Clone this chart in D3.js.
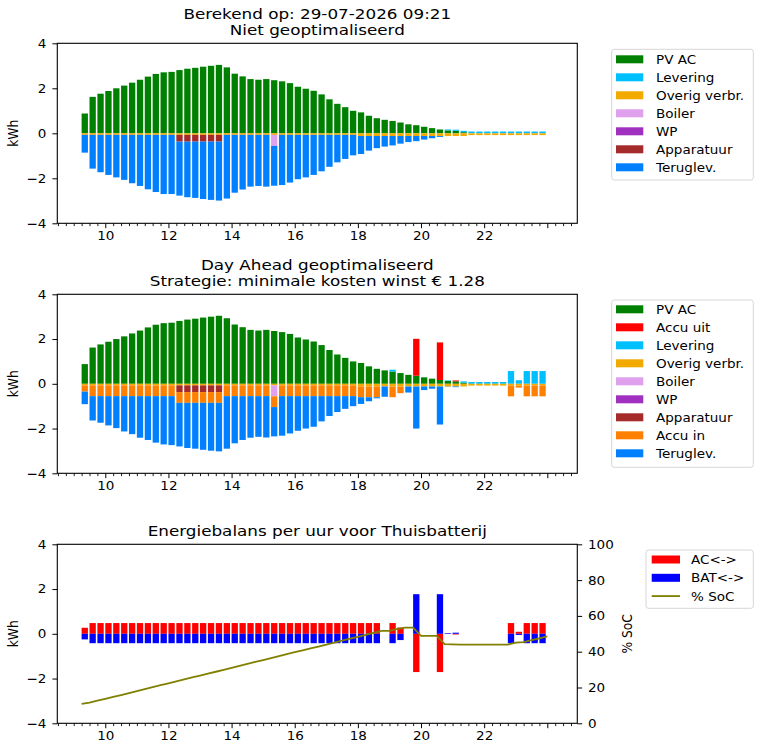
<!DOCTYPE html>
<html><head><meta charset="utf-8">
<script src="https://cdn.jsdelivr.net/npm/d3@7"></script>
<style>
body{margin:0;background:#fff}
text{font-family:"DejaVu Sans",sans-serif;fill:#000}
</style>
</head><body>
<svg id="c" width="775" height="754"></svg>
<script>
// ---------- DATA ----------
const times = ("09:15 09:30 09:45 10:00 10:15 10:30 10:45 11:00 11:15 11:30 11:45 12:00 12:15 12:30 12:45 " +
  "13:00 13:15 13:30 13:45 14:00 14:15 14:30 14:45 15:00 15:15 15:30 15:45 16:00 16:15 16:30 16:45 " +
  "17:00 17:15 17:30 17:45 18:00 18:15 18:30 18:45 19:00 19:15 19:30 19:45 20:00 20:15 20:30 20:45 " +
  "21:00 21:15 21:30 21:45 22:00 22:15 22:30 22:45 23:00 23:15 23:30 23:45").split(" ");
const socTimes = times.concat(["24:00"]);

const pvAC = [0.88,1.62,1.76,1.88,2.00,2.12,2.25,2.38,2.52,2.64,
  2.71,2.73,2.81,2.87,2.91,2.96,3.00,3.04,2.93,2.65,
  2.53,2.41,2.38,2.41,2.36,2.31,2.23,2.07,1.98,1.89,
  1.73,1.51,1.31,1.16,1.00,0.93,0.78,0.67,0.60,0.55,
  0.48,0.40,0.36,0.29,0.23,0.17,0.13,0.11,0.05,0,
  0,0,0,0,0,0,0,0,0];

const leveringTop = [0,0,0,0,0,0,0,0,0,0, 0,0,0,0,0,0,0,0,0,0, 0,0,0,0,0,0,0,0,0,0,
  0,0,0,0,0,0,0,0,0,0, 0,0,0,0,0,0,0.04,0.05,0.06,0.08,
  0.08,0.08,0.08,0.08,0.08,0.08,0.08,0.08,0.08];

const overigVerbr = [-0.07,-0.07,-0.07,-0.07,-0.07,-0.07,-0.07,-0.07,-0.07,-0.07,
  -0.07,-0.07,-0.07,-0.07,-0.07,-0.07,-0.07,-0.07,-0.07,-0.07,
  -0.07,-0.07,-0.07,-0.07,-0.07,-0.07,-0.07,-0.07,-0.07,-0.07,
  -0.07,-0.07,-0.07,-0.07,-0.07,-0.12,-0.12,-0.12,-0.12,-0.12,
  -0.12,-0.12,-0.12,-0.12,-0.12,-0.12,-0.12,-0.12,-0.12,-0.08,
  -0.08,-0.08,-0.08,-0.08,-0.08,-0.08,-0.08,-0.08,-0.08];

const boiler = [0,0,0,0,0,0,0,0,0,0, 0,0,0,0,0,0,0,0,0,0, 0,0,0,0,-0.49,0,0,0,0,0,
  0,0,0,0,0,0,0,0,0,0, 0,0,0,0,0,0,0,0,0,0, 0,0,0,0,0,0,0,0,0];
const wp = [0,0,0,0,0,0,0,0,0,0, 0,0,0,0,0,0,0,0,0,0, 0,0,0,0,0,0,0,0,0,0,
  0,0,0,0,0,0,0,0,0,0, 0,0,0,0,0,0,0,0,0,0, 0,0,0,0,0,0,0,0,0];
const apparatuur = [0,0,0,0,0,0,0,0,0,0, 0,0,-0.30,-0.30,-0.30,-0.30,-0.30,-0.30,0,0,
  0,0,0,0,0,0,0,0,0,0, 0,0,0,0,0,0,0,0,0,0, 0,0,0,0,0,0,0,0,0,0, 0,0,0,0,0,0,0,0,0];

const teruglevTop = [-0.79,-1.50,-1.66,-1.78,-1.89,-2.00,-2.15,-2.27,-2.42,-2.54,
  -2.63,-2.63,-2.40,-2.47,-2.50,-2.55,-2.59,-2.62,-2.83,-2.57,
  -2.43,-2.30,-2.27,-2.30,-1.77,-2.23,-2.12,-1.97,-1.89,-1.78,
  -1.62,-1.42,-1.22,-1.07,-0.91,-0.80,-0.65,-0.54,-0.47,-0.42,
  -0.34,-0.27,-0.23,-0.16,-0.10,-0.04,0,0,0,0,
  0,0,0,0,0,0,0,0,0];

// Day Ahead optimised
const accuUit = [0,0,0,0,0,0,0,0,0,0, 0,0,0,0,0,0,0,0,0,0, 0,0,0,0,0,0,0,0,0,0,
  0,0,0,0,0,0,0,0,0,0, 0,0,1.65,0,0,1.68,0,0.04,0,0, 0,0,0,0,0,0,0,0,0];
const leveringMid = [0,0,0,0,0,0,0,0,0,0, 0,0,0,0,0,0,0,0,0,0, 0,0,0,0,0,0,0,0,0,0,
  0,0,0,0,0,0,0,0,0,0.08, 0,0,0,0,0,0,0.02,0,0.06,0.08,
  0.08,0.08,0.08,0.08,0.57,0.16,0.57,0.57,0.57];
const accuIn = [-0.28,-0.48,-0.48,-0.48,-0.48,-0.48,-0.48,-0.48,-0.48,-0.48,
  -0.48,-0.48,-0.48,-0.48,-0.48,-0.48,-0.48,-0.48,-0.48,-0.48,
  -0.48,-0.48,-0.48,-0.48,-0.48,-0.48,-0.48,-0.48,-0.48,-0.48,
  -0.48,-0.48,-0.48,-0.48,-0.48,-0.48,-0.48,-0.48,0,-0.48,
  -0.30,0,0,0,0,0,0,0,0,0,
  0,0,0,0,-0.48,-0.09,-0.48,-0.48,-0.48];
const teruglevMid = [-0.56,-1.09,-1.19,-1.31,-1.43,-1.58,-1.70,-1.86,-1.96,-2.08,
  -2.16,-2.19,-1.95,-2.02,-2.05,-2.10,-2.14,-2.17,-2.35,-2.11,
  -1.96,-1.86,-1.82,-1.85,-1.31,-1.77,-1.67,-1.55,-1.45,-1.37,
  -1.13,-0.89,-0.71,-0.57,-0.45,-0.30,-0.18,-0.05,-0.46,0,
  0,-0.27,-1.88,-0.16,-0.10,-1.70,-0.01,-0.03,0,0,
  0,0,0,0,0,0,0,0,0];

// Thuisbatterij
const acBalance = [0.27,0.48,0.48,0.48,0.48,0.48,0.48,0.48,0.48,0.48,
  0.48,0.48,0.48,0.48,0.48,0.48,0.48,0.48,0.48,0.48,
  0.48,0.48,0.48,0.48,0.48,0.48,0.48,0.48,0.48,0.48,
  0.48,0.48,0.48,0.48,0.48,0.48,0.48,0.48,0,0.48,
  0.28,0,-1.71,0,0,-1.71,0,-0.03,0,0,
  0,0,0,0,0.48,0.09,0.48,0.48,0.48];
const batBalance = [-0.25,-0.42,-0.42,-0.42,-0.42,-0.42,-0.42,-0.42,-0.42,-0.42,
  -0.42,-0.42,-0.42,-0.42,-0.42,-0.42,-0.42,-0.42,-0.42,-0.42,
  -0.42,-0.42,-0.42,-0.42,-0.42,-0.42,-0.42,-0.42,-0.42,-0.42,
  -0.42,-0.42,-0.42,-0.42,-0.42,-0.42,-0.42,-0.42,0,-0.42,
  -0.28,0,1.77,0,0,1.77,0.03,0.05,0,0,
  0,0,0,0,-0.42,-0.05,-0.42,-0.42,-0.42];
const soc = [10.9,11.5,12.6,13.7,14.8,15.8,16.9,18.0,19.1,20.2,
  21.3,22.3,23.4,24.5,25.6,26.7,27.8,28.8,29.9,31.0,
  32.1,33.2,34.3,35.3,36.4,37.5,38.6,39.7,40.8,41.8,
  42.9,44.0,45.1,46.2,47.3,48.3,49.4,50.5,51.6,51.6,
  52.7,53.4,53.4,48.8,48.8,48.8,44.2,44.1,44.0,44.0,
  44.0,44.0,44.0,44.0,44.0,45.1,45.3,46.4,47.5,48.6];

const xTickLabels = ["10","12","14","16","18","20","22"];
const xMajorTicks = [10,12,14,16,18,20,22,24];
const yTicks = [-4,-2,0,2,4];
const socTicks = [0,20,40,60,80,100];

const titles = [
  ["Berekend op: 29-07-2026 09:21", "Niet geoptimaliseerd"],
  ["Day Ahead geoptimaliseerd", "Strategie: minimale kosten winst € 1.28"],
  ["Energiebalans per uur voor Thuisbatterij"]
];

const C = {pv:"#008000", uit:"#ff0000", lev:"#00bfff", overig:"#f2a900", boiler:"#dfa0ee",
  wp:"#a030c0", app:"#a52a2a", accuIn:"#ff8000", terug:"#0080ff", ac:"#ff0000", bat:"#0000ff", soc:"#808000"};

const topSeries = [
  {name:"PV AC", color:C.pv, values:pvAC},
  {name:"Levering", color:C.lev, values:leveringTop},
  {name:"Overig verbr.", color:C.overig, values:overigVerbr},
  {name:"Boiler", color:C.boiler, values:boiler},
  {name:"WP", color:C.wp, values:wp},
  {name:"Apparatuur", color:C.app, values:apparatuur},
  {name:"Teruglev.", color:C.terug, values:teruglevTop}
];
const midSeries = [
  {name:"PV AC", color:C.pv, values:pvAC},
  {name:"Accu uit", color:C.uit, values:accuUit},
  {name:"Levering", color:C.lev, values:leveringMid},
  {name:"Overig verbr.", color:C.overig, values:overigVerbr},
  {name:"Boiler", color:C.boiler, values:boiler},
  {name:"WP", color:C.wp, values:wp},
  {name:"Apparatuur", color:C.app, values:apparatuur},
  {name:"Accu in", color:C.accuIn, values:accuIn},
  {name:"Teruglev.", color:C.terug, values:teruglevMid}
];

// ---------- LAYOUT ----------
const svg = d3.select("#c");
const L = 57.3, R = 577.3;
const SX = 1.1, TSX = 1.15;   // horizontal text stretch
const FS = 12.3, TFS = 14.6;
const toH = s => { const [h,m] = s.split(":").map(Number); return h + m/60; };
const barW = 0.2;
const x = d3.scaleLinear().domain([8.48, 24.95]).range([L, R]);
const panels = [{top:43.3, bottom:223.3}, {top:294.3, bottom:473.3}, {top:544.3, bottom:723.3}];

function txt(g, px, py, s, o={}) {
  const sx = o.sx || SX;
  return g.append("text")
    .attr("transform", `translate(${px},${py}) scale(${sx},1)` + (o.rot ? ` rotate(${o.rot})` : ""))
    .attr("text-anchor", o.anchor || "start")
    .attr("font-size", o.size || FS)
    .text(s);
}
const fmt = d => d < 0 ? "\u2212" + Math.abs(d) : String(d);

function frame(i) {
  const p = panels[i];
  const y = d3.scaleLinear().domain([-4, 4]).range([p.bottom, p.top]);
  const g = svg.append("g");
  // x axis major
  const ax = d3.axisBottom(x).tickValues(xMajorTicks).tickSize(4.9).tickSizeOuter(0).tickPadding(3.5)
    .tickFormat(d => xTickLabels.includes(String(d)) ? String(d) : "");
  const gx = g.append("g").attr("transform", `translate(0,${p.bottom})`).call(ax);
  gx.select(".domain").remove();
  gx.selectAll("text").attr("font-size", FS).attr("font-family", "DejaVu Sans").attr("fill", "#000")
    .attr("transform", `scale(${SX},1)`);
  gx.selectAll("line").attr("stroke", "#000").attr("stroke-width", 1);
  const minor = d3.range(8.5, 24.95, 0.25).filter(v => !xMajorTicks.includes(v));
  const gm = g.append("g").attr("transform", `translate(0,${p.bottom})`)
    .call(d3.axisBottom(x).tickValues(minor).tickSize(2.8).tickSizeOuter(0).tickFormat(""));
  gm.select(".domain").remove();
  gm.selectAll("line").attr("stroke", "#000").attr("stroke-width", 0.9);
  // y axis
  const gy = g.append("g").attr("transform", `translate(${L},0)`)
    .call(d3.axisLeft(y).tickValues(yTicks).tickSize(4.9).tickSizeOuter(0).tickPadding(5.1).tickFormat(fmt));
  gy.select(".domain").remove();
  gy.selectAll("text").attr("font-size", FS).attr("font-family", "DejaVu Sans").attr("fill", "#000")
    .attr("transform", `scale(${SX},1)`);
  gy.selectAll("line").attr("stroke", "#000").attr("stroke-width", 1);
  // y label
  txt(g, 18.3, (p.top + p.bottom) / 2, "kWh", {anchor:"middle", rot:-90});
  // titles
  const tl = titles[i];
  const cx = (L + R) / 2;
  tl.forEach((s, k) => {
    const by = p.top - 8.3 - (tl.length - 1 - k) * 16.5;
    txt(g, cx, by, s, {anchor:"middle", size:TFS, sx:TSX});
  });
  return {g, y, p};
}

function spines(g, p) {
  g.append("rect").attr("x", L).attr("y", p.top).attr("width", R - L).attr("height", p.bottom - p.top)
    .attr("fill", "none").attr("stroke", "#000").attr("stroke-width", 1.1);
}

function legend(top, bottom, left, items, hx0, hx1, tx, rowY, step) {
  const g = svg.append("g");
  g.append("rect").attr("x", left).attr("y", top).attr("width", 753.3 - left).attr("height", bottom - top)
    .attr("rx", 2.5).attr("fill", "#fff").attr("fill-opacity", 0.8).attr("stroke", "#d6d6d6").attr("stroke-width", 1);
  items.forEach((it, k) => {
    const cy = rowY + k * step;
    if (it.line) {
      g.append("line").attr("x1", hx0).attr("x2", hx1).attr("y1", cy).attr("y2", cy)
        .attr("stroke", it.color).attr("stroke-width", 1.8);
    } else {
      g.append("rect").attr("x", hx0).attr("y", cy - 4).attr("width", hx1 - hx0).attr("height", 8).attr("fill", it.color);
    }
    txt(g, tx, cy + 4.4, it.name);
  });
}

function stacked(i, series) {
  const {g, y, p} = frame(i);
  const rows = times.map((t, j) => {
    const o = {t: toH(t)};
    series.forEach(s => o[s.name] = s.values[j]);
    return o;
  });
  const st = d3.stack().keys(series.map(s => s.name)).offset(d3.stackOffsetDiverging)(rows);
  st.forEach((layer, li) => {
    g.append("g").selectAll("rect").data(layer.filter(d => d[1] !== d[0])).join("rect")
      .attr("x", d => x(d.data.t)).attr("width", d => x(d.data.t + barW) - x(d.data.t))
      .attr("y", d => y(Math.max(d[0], d[1]))).attr("height", d => Math.abs(y(d[0]) - y(d[1])))
      .attr("fill", series[li].color);
  });
  spines(g, p);
}

stacked(0, topSeries);
stacked(1, midSeries);

// bottom panel
(function () {
  const {g, y, p} = frame(2);
  const bars = [{name:"AC<->", color:C.ac, values:acBalance}, {name:"BAT<->", color:C.bat, values:batBalance}];
  bars.forEach(b => {
    g.append("g").selectAll("rect").data(times.map((t, j) => ({t: toH(t), v: b.values[j]})).filter(d => d.v !== 0))
      .join("rect")
      .attr("x", d => x(d.t)).attr("width", d => x(d.t + barW) - x(d.t))
      .attr("y", d => y(Math.max(0, d.v))).attr("height", d => Math.abs(y(d.v) - y(0)))
      .attr("fill", b.color);
  });
  const ys = d3.scaleLinear().domain([0, 100]).range([p.bottom, p.top]);
  const line = d3.line().x(d => x(d.t)).y(d => ys(d.v));
  g.append("path").datum(socTimes.map((t, j) => ({t: toH(t), v: soc[j]})))
    .attr("d", line).attr("fill", "none").attr("stroke", C.soc).attr("stroke-width", 1.8);
  const gr = g.append("g").attr("transform", `translate(${R},0)`)
    .call(d3.axisRight(ys).tickValues(socTicks).tickSize(4.9).tickSizeOuter(0).tickPadding(4.8));
  gr.select(".domain").remove();
  gr.selectAll("text").attr("font-size", FS).attr("font-family", "DejaVu Sans").attr("fill", "#000")
    .attr("transform", `scale(${SX},1)`);
  gr.selectAll("line").attr("stroke", "#000").attr("stroke-width", 1);
  txt(g, 631.7, (p.top + p.bottom) / 2, "% SoC", {anchor:"middle", rot:-90});
  spines(g, p);
})();

legend(49.3, 180, 611.7, topSeries, 616, 643.3, 656, 59.3, 18);
legend(300, 467.3, 611.7, midSeries, 616, 643.3, 656, 309.3, 18);
legend(550, 608.3, 646, [
  {name:"AC<->", color:C.ac}, {name:"BAT<->", color:C.bat}, {name:"% SoC", color:C.soc, line:true}
], 651.7, 680, 691, 559.5, 18.3);
</script>
</body></html>
